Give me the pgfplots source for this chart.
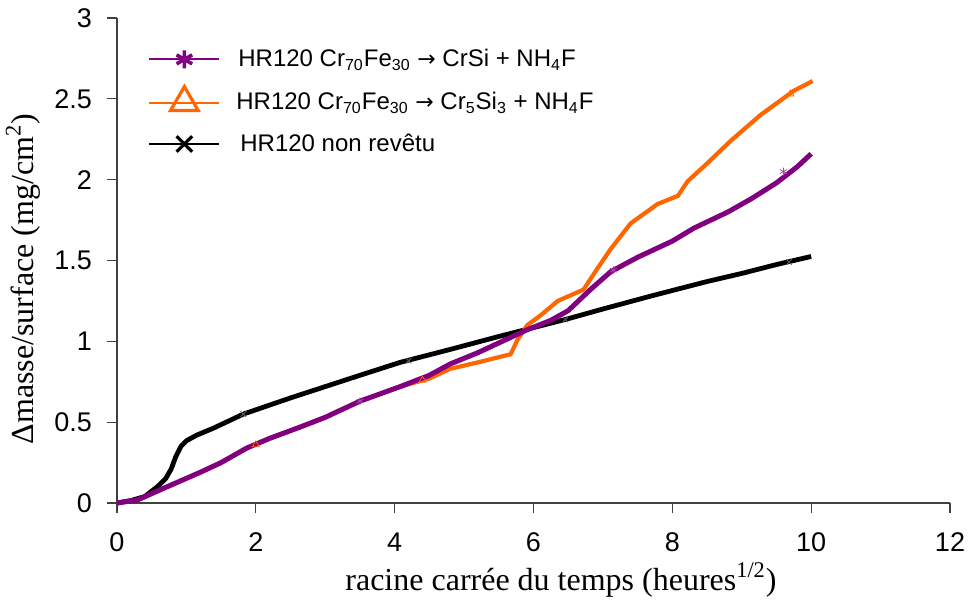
\documentclass[border=0pt]{standalone}
\usepackage{fontspec}
\setmainfont{Liberation Sans}
\newfontfamily\timesf{Liberation Serif}
\newfontfamily\djv{DejaVu Sans}
\usepackage{pgfplots}
\pgfplotsset{compat=1.18}
\definecolor{cpurple}{RGB}{128,0,128}
\definecolor{corange}{RGB}{255,102,0}
\newcommand{\arr}{{\djv\fontsize{11}{13}\selectfont →}}
\begin{document}
\begin{tikzpicture}
\begin{axis}[
  scale only axis,
  width=416.5pt, height=242.5pt,
  xmin=0, xmax=12, ymin=0, ymax=3,
  axis x line=bottom, axis y line=left,
  axis line style={-, line width=0.6pt, black!75},
  xtick={0,2,...,12}, ytick={0,0.5,...,3},
  tick align=outside, major tick length=5pt,
  tick style={line width=0.6pt, black!75},
  /pgf/number format/assume math mode=true,
  /pgf/number format/fixed,
  ticklabel style={font=\fontsize{13.5}{16}\selectfont},
  yticklabel style={xshift=-4pt},
  xticklabel style={yshift=-6.5pt},
  xlabel={racine carrée du temps (heures\textsuperscript{1/2})},
  ylabel={Δmasse/surface (mg/cm\textsuperscript{2})},
  xlabel style={font=\timesf\fontsize{16}{19}\selectfont, at={(axis description cs:0.533,0)}, anchor=center, yshift=-38.5pt},
  ylabel style={font=\timesf\fontsize{16}{19}\selectfont, at={([xshift=-47pt]axis description cs:0,0.462)}, anchor=center},
  legend style={at={(axis description cs:0.03,0.953)}, anchor=north west, draw=none, fill=none,
    font=\fontsize{12}{14}\selectfont, row sep=6.5pt, legend cell align=left},
  legend image code/.code={\draw[mark repeat=2,mark phase=2,#1] plot coordinates {(0pt,0pt)(17.5pt,0pt)(35pt,0pt)};},
  clip=false,
]
% black
\addplot[black, line width=2.4pt, forget plot] coordinates {
(0,0)(0.2,0.015)(0.4,0.04)(0.58,0.10)(0.7,0.15)(0.78,0.21)(0.85,0.29)(0.92,0.35)(1.0,0.385)(1.15,0.42)(1.4,0.465)(1.82,0.55)(2.5,0.65)(3,0.72)(3.5,0.79)(4.08,0.87)(4.8,0.95)(5.5,1.03)(6,1.085)(6.5,1.14)(7,1.20)(7.69,1.28)(8.5,1.37)(9,1.42)(9.5,1.475)(10,1.525)
};
% orange
\addplot[corange, line width=2.1pt, forget plot] coordinates {
(0,0)(0.3,0.02)(0.72,0.10)(1.2,0.19)(1.5,0.25)(1.87,0.34)(2.2,0.40)(2.64,0.47)(3.0,0.53)(3.5,0.63)(4.08,0.72)(4.5,0.77)(4.8,0.83)(5.2,0.87)(5.67,0.92)(5.77,1.01)(5.91,1.10)(6.1,1.16)(6.35,1.25)(6.72,1.32)(6.92,1.45)(7.11,1.57)(7.4,1.73)(7.79,1.85)(8.08,1.90)(8.22,1.99)(8.5,2.10)(8.84,2.24)(9.27,2.40)(9.75,2.55)(10.02,2.61)
};
% purple
\addplot[cpurple, line width=2.5pt, forget plot] coordinates {
(0,0)(0.3,0.02)(0.72,0.10)(1.2,0.19)(1.5,0.25)(1.87,0.34)(2.2,0.40)(2.64,0.47)(3.0,0.53)(3.5,0.63)(4.08,0.72)(4.5,0.79)(4.8,0.86)(5.2,0.93)(5.6,1.01)(5.9,1.07)(6.25,1.13)(6.5,1.19)(6.82,1.32)(7.11,1.43)(7.5,1.52)(8.0,1.62)(8.31,1.70)(8.8,1.80)(9.13,1.88)(9.5,1.98)(9.8,2.08)(10,2.16)
};
% sparse markers
\addplot[only marks, mark=x, mark size=2pt, black!60, forget plot] coordinates {(1.82,0.55)(4.2,0.88)(6.46,1.135)(9.68,1.49)};
\addplot[only marks, mark=triangle, mark size=2pt, corange, forget plot] coordinates {(2.0,0.36)(4.4,0.76)(9.7,2.53)};
\addplot[only marks, mark=asterisk, mark size=2pt, cpurple!70, forget plot] coordinates {(3.5,0.63)(7.15,1.44)(9.6,2.05)};
% legend
\addlegendimage{cpurple, line width=1pt, mark=asterisk, mark size=4.5pt, mark options={line width=1.8pt}}
\addlegendentry{\hspace{7pt}HR120 Cr\textsubscript{70}Fe\textsubscript{30} \arr{} CrSi + NH\textsubscript{4}F}
\addlegendimage{corange, line width=1pt, mark=triangle, mark size=8pt, mark options={line width=1.6pt}}
\addlegendentry{\hspace{6pt}HR120 Cr\textsubscript{70}Fe\textsubscript{30} \arr{} Cr\textsubscript{5}Si\textsubscript{3} + NH\textsubscript{4}F}
\addlegendimage{black, line width=1pt, mark=x, mark size=5.5pt, mark options={line width=1.6pt}}
\addlegendentry{\hspace{8pt}HR120 non revêtu}
\end{axis}
\pgfresetboundingbox
\path (-58.5pt,-51pt) rectangle (427.5pt,251.5pt);
\end{tikzpicture}
\end{document}
